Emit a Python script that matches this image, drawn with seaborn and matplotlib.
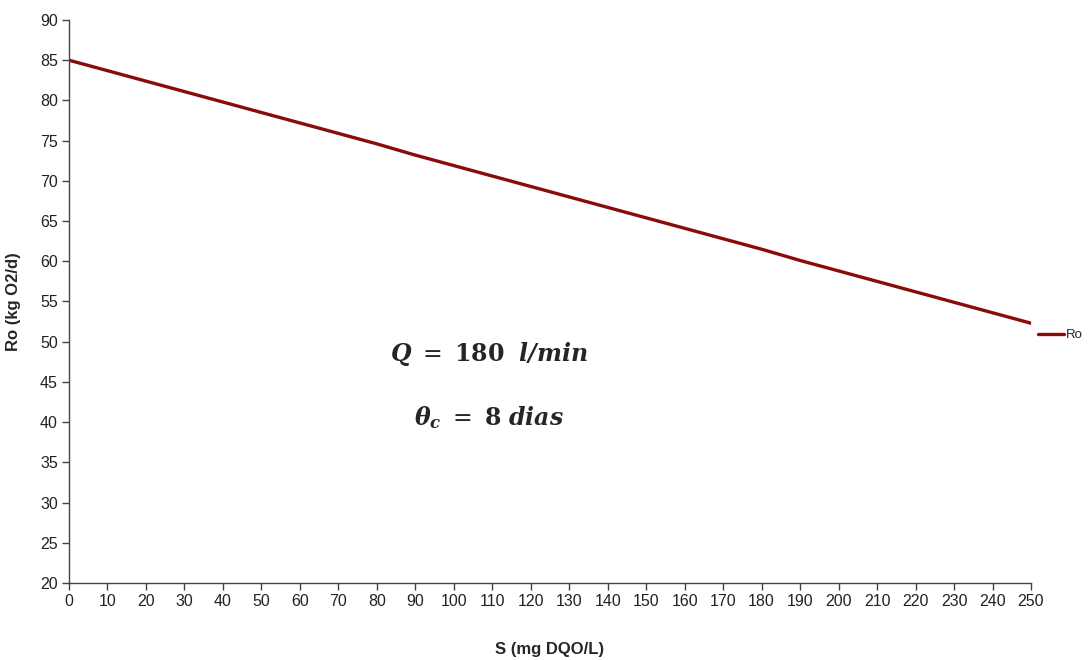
import matplotlib
matplotlib.use("Agg")
import matplotlib.pyplot as plt
import seaborn as sns
import pandas as pd

# Oxygen requirement Ro versus effluent substrate S
s_values = [0, 10, 20, 30, 40, 50, 60, 70, 80, 90, 100, 110, 120, 130,
            140, 150, 160, 170, 180, 190, 200, 210, 220, 230, 240, 250]
ro_values = [85.0, 83.7, 82.4, 81.1, 79.8, 78.5, 77.2, 75.9, 74.6, 73.2,
             71.9, 70.6, 69.3, 68.0, 66.7, 65.4, 64.1, 62.8, 61.5, 60.1,
             58.8, 57.5, 56.2, 54.9, 53.6, 52.3]
series_name = "Ro"
x_ticks = list(range(0, 251, 10))
y_ticks = list(range(20, 91, 5))

df = pd.DataFrame({"S": s_values, "Ro": ro_values, "serie": series_name})

sns.set_theme(style="white")
plt.rcParams["font.family"] = ["Liberation Sans", "DejaVu Sans"]
plt.rcParams["mathtext.fontset"] = "dejavuserif"

fig = plt.figure(figsize=(10.91, 6.60), dpi=100)
ax = fig.add_axes([0.0632, 0.1167, 0.8818, 0.853])

sns.lineplot(data=df, x="S", y="Ro", hue="serie", palette=["#8b0a0a"],
             linewidth=2.4, ax=ax, legend=True)

ax.set_xlim(0, 250)
ax.set_ylim(20, 90)
ax.set_xticks(x_ticks)
ax.set_yticks(y_ticks)
ax.tick_params(axis="both", which="both", direction="out", length=5,
               width=1, color="#444444", labelsize=11.5,
               labelcolor="#222222", bottom=True, left=True, pad=3)
for side in ("top", "right"):
    ax.spines[side].set_visible(False)
for side in ("left", "bottom"):
    ax.spines[side].set_color("#444444")
    ax.spines[side].set_linewidth(1.0)

ax.set_xlabel("S (mg DQO/L)", fontsize=12, fontweight="bold", labelpad=24)
ax.set_ylabel("Ro (kg O2/d)", fontsize=12, fontweight="bold", labelpad=14)

ax.text(0.437, 0.407, r"$\mathbfit{Q}\ =\ \mathbf{180}\ \ \mathbfit{l/min}$",
        transform=ax.transAxes, ha="center", va="center", fontsize=17)
ax.text(0.437, 0.293, r"$\mathbfit{\theta_c}\ =\ \mathbf{8}\ \mathbfit{dias}$",
        transform=ax.transAxes, ha="center", va="center", fontsize=17)

ax.legend(loc="center left", bbox_to_anchor=(1.003, 0.44), frameon=False,
          handlelength=2.0, handletextpad=0.1, fontsize=9.5,
          borderaxespad=0.2, borderpad=0.1)

fig.savefig("out.png", dpi=100)
